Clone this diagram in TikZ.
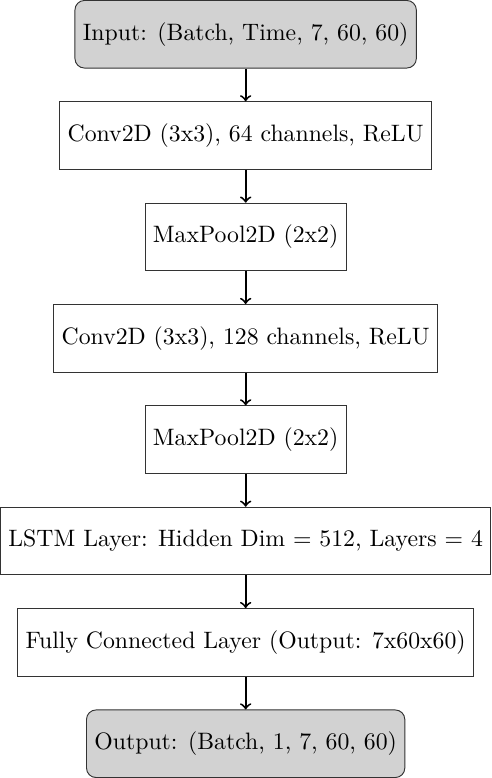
\documentclass[tikz,border=0pt]{standalone}
\usepackage{tikz}
\usetikzlibrary{arrows,positioning,calc}
\colorlet{c1}{gray!35}

\begin{document}
\begin{tikzpicture}[->, auto, thick, node distance=1.5cm]
\tikzstyle{layer}=[rectangle, draw=black!80, thin, minimum height=1cm, text=black]
\tikzstyle{io}=[layer, rounded corners=4pt, fill=c1]
\node[io]    (input)                       {Input: (Batch, Time, 7, 60, 60)};
\node[layer] (conv1) [below of=input]      {Conv2D (3x3), 64 channels, ReLU};
\node[layer] (pool1) [below of=conv1]      {MaxPool2D (2x2)};
\node[layer] (conv2) [below of=pool1]      {Conv2D (3x3), 128 channels, ReLU};
\node[layer] (pool2) [below of=conv2]      {MaxPool2D (2x2)};
\node[layer] (lstm)  [below of=pool2]      {LSTM Layer: Hidden Dim $=$ 512, Layers $=$ 4};
\node[layer] (fc)    [below of=lstm]       {Fully Connected Layer (Output: 7x60x60)};
\node[io]    (output) [below of=fc]        {Output: (Batch, 1, 7, 60, 60)};
\draw
(input) edge (conv1)
(conv1) edge (pool1)
(pool1) edge (conv2)
(conv2) edge (pool2)
(pool2) edge (lstm)
(lstm)  edge (fc)
(fc)    edge (output);
\end{tikzpicture}
\end{document}
